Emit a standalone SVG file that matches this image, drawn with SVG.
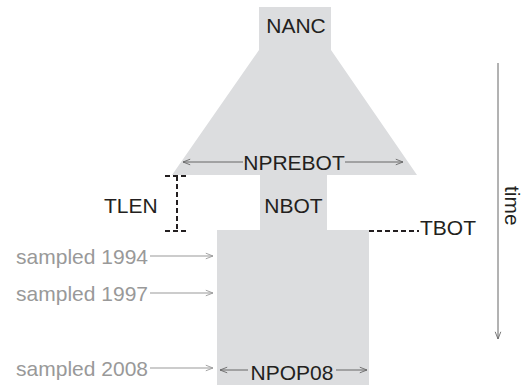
<svg xmlns="http://www.w3.org/2000/svg" width="524" height="387" viewBox="0 0 524 387">
<defs>
<marker id="ah" viewBox="0 0 10 10" refX="10" refY="5" markerWidth="8" markerHeight="8" markerUnits="userSpaceOnUse" orient="auto-start-reverse">
<path d="M1,1.5 L10,5 L1,8.5" fill="none" stroke="#666" stroke-width="1.1"/>
</marker>
<marker id="ahl" viewBox="0 0 10 10" refX="10" refY="5" markerWidth="8" markerHeight="8" markerUnits="userSpaceOnUse" orient="auto-start-reverse">
<path d="M1,1.5 L10,5 L1,8.5" fill="none" stroke="#999" stroke-width="1.1"/>
</marker>
</defs>
<style>
.shape{fill:#dcdddf;stroke:none}
.lbl{font-family:"Liberation Sans",Arial,sans-serif;font-size:21px;fill:#231f20}
.smp{font-family:"Liberation Sans",Arial,sans-serif;font-size:21px;fill:#999}
.arr{stroke:#666;stroke-width:1;fill:none}
.arrl{stroke:#999;stroke-width:1;fill:none}
.dash{stroke:#231f20;stroke-width:2;stroke-dasharray:5,3;fill:none}
</style>
<rect width="524" height="387" fill="#fff"/>
<g id="NANC">
<polygon class="shape" points="259,7 331,7 331,50 417,175 172,175 259,50"/>
<text class="lbl" x="296" y="33" text-anchor="middle">NANC</text>
</g>
<g id="NBOT">
<rect class="shape" x="260" y="174" width="67" height="57"/>
<text class="lbl" x="293.5" y="213" text-anchor="middle">NBOT</text>
</g>
<g id="NPOP08">
<rect class="shape" x="217" y="230" width="152" height="155"/>
</g>
<g id="connectors">
<line class="arr" x1="243" y1="162" x2="183" y2="162" marker-end="url(#ah)"/>
<line class="arr" x1="345" y1="162" x2="403" y2="162" marker-end="url(#ah)"/>
<line class="arr" x1="248" y1="370" x2="220" y2="370" marker-end="url(#ah)"/>
<line class="arr" x1="336" y1="370" x2="367" y2="370" marker-end="url(#ah)"/>
<line class="arrl" x1="150" y1="256" x2="213" y2="256" marker-end="url(#ahl)"/>
<line class="arrl" x1="150" y1="293" x2="213" y2="293" marker-end="url(#ahl)"/>
<line class="arrl" x1="150" y1="368" x2="213" y2="368" marker-end="url(#ahl)"/>
<line class="arr" x1="498" y1="63" x2="498" y2="339" marker-end="url(#ah)"/>
<path class="dash" d="M165,176 H189 M177,176 V231 M165,231 H189"/>
<line class="dash" x1="369" y1="231" x2="419" y2="231" stroke-dasharray="4,2"/>
</g>
<text class="lbl" x="294" y="170" text-anchor="middle">NPREBOT</text>
<text class="lbl" x="292" y="380" text-anchor="middle">NPOP08</text>
<text class="lbl" x="104" y="213">TLEN</text>
<text class="lbl" x="420" y="235">TBOT</text>
<text class="lbl" transform="translate(505,186) rotate(90)">time</text>
<text class="smp" x="148" y="264" text-anchor="end">sampled 1994</text>
<text class="smp" x="148" y="301" text-anchor="end">sampled 1997</text>
<text class="smp" x="148" y="376" text-anchor="end">sampled 2008</text>
</svg>
